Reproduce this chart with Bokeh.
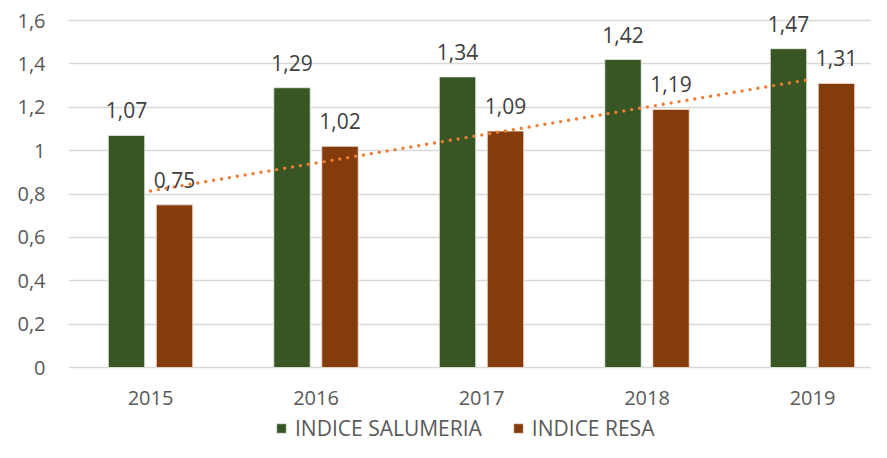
from bokeh.plotting import figure
from bokeh.models import (ColumnDataSource, Range1d, FixedTicker, CustomJSTickFormatter,
                          Legend, LegendItem)
from bokeh.core.properties import value
from bokeh.embed import file_html
from bokeh.resources import INLINE
import numpy as np

years = ["2015", "2016", "2017", "2018", "2019"]
salumeria = [1.07, 1.29, 1.34, 1.42, 1.47]
resa = [0.75, 1.02, 1.09, 1.19, 1.31]
y_ticks = [0, 0.2, 0.4, 0.6, 0.8, 1.0, 1.2, 1.4, 1.6]

GREEN = "#375623"
BROWN = "#843C0C"
ORANGE = "#ED7D31"
FONT = "Open Sans"

xs = list(range(1, len(years) + 1))
off = 0.145
bw = 0.22

def fmt(v):
    return f"{v:.2f}".replace(".", ",")

src = ColumnDataSource(dict(
    x=xs,
    xs_s=[x - off for x in xs],
    xs_r=[x + off for x in xs],
    zero=[0] * len(xs),
    year=years,
    sal=salumeria,
    resa=resa,
    sal_lbl=[fmt(v) for v in salumeria],
    resa_lbl=[fmt(v) for v in resa],
))

# linear trendline of INDICE RESA
coef = np.polyfit(xs, resa, 1)
trend_x = [xs[0], xs[-1]]
trend_y = [float(np.polyval(coef, xs[0])), float(np.polyval(coef, xs[-1]))]

# frame spans the full height: 1.6 at 20px, 0 at 367px, frame bottom at 442px
PX_PER_UNIT = (367 - 20) / 1.6
Y_BOTTOM = -(442 - 367) / PX_PER_UNIT
Y_TOP = 1.6 + 20 / PX_PER_UNIT

p = figure(width=871, height=442, output_backend="svg", toolbar_location=None,
           x_range=Range1d(0.5045, 5.3565), y_range=Range1d(Y_BOTTOM, Y_TOP),
           min_border_left=68, min_border_right=0, min_border_top=0,
           min_border_bottom=0, x_axis_location=None)
p.outline_line_color = None
p.background_fill_color = "white"
p.border_fill_color = "white"

p.xgrid.grid_line_color = None
p.ygrid.grid_line_color = "#D9D9D9"
p.ygrid.grid_line_width = 1.3
p.ygrid.ticker = FixedTicker(ticks=y_ticks)

p.yaxis.ticker = FixedTicker(ticks=y_ticks)
p.yaxis.formatter = CustomJSTickFormatter(
    code="return (Math.round(tick*10)/10).toString().replace('.', ',');")
p.yaxis.axis_line_color = None
p.yaxis.major_tick_line_color = None
p.yaxis.minor_tick_line_color = None
p.yaxis.major_tick_in = 0
p.yaxis.major_tick_out = 0
p.yaxis.major_label_text_font = FONT
p.yaxis.major_label_text_font_size = "20px"
p.yaxis.major_label_text_color = "#595959"
p.yaxis.major_label_standoff = 23

# category (year) labels under the baseline
p.text(x="x", y="zero", text="year", source=src, text_font=value(FONT),
       text_font_size="20px", text_color="#595959", text_align="center",
       text_baseline="alphabetic", y_offset=30)

r_s = p.vbar(x="xs_s", top="sal", width=bw, source=src, fill_color=GREEN,
             line_color="#E8EDE4", line_width=0.8)
r_r = p.vbar(x="xs_r", top="resa", width=bw, source=src, fill_color=BROWN,
             line_color="#F0E4DC", line_width=0.8)

p.line(trend_x, trend_y, line_color=ORANGE, line_width=3.4, line_dash="0 8",
       line_cap="round")

p.text(x="xs_s", y="sal", text="sal_lbl", source=src, text_font=value(FONT),
       text_font_size="21px", text_color="#404040", text_align="center",
       text_baseline="alphabetic", y_offset=-25)
p.text(x="xs_r", y="resa", text="resa_lbl", source=src, text_font=value(FONT),
       text_font_size="21px", text_color="#404040", text_align="center",
       text_baseline="alphabetic", y_offset=-25)

legend = Legend(items=[LegendItem(label="INDICE SALUMERIA", renderers=[r_s]),
                       LegendItem(label="INDICE RESA", renderers=[r_r])],
                orientation="horizontal", location=(207, 0),
                label_text_font=FONT, label_text_font_size="21px",
                label_text_color="#595959", glyph_width=12, glyph_height=12,
                label_standoff=8, spacing=30, padding=0, margin=0,
                border_line_color=None, background_fill_alpha=0)
p.add_layout(legend, "center")

open("out.html", "w").write(file_html(p, INLINE))
